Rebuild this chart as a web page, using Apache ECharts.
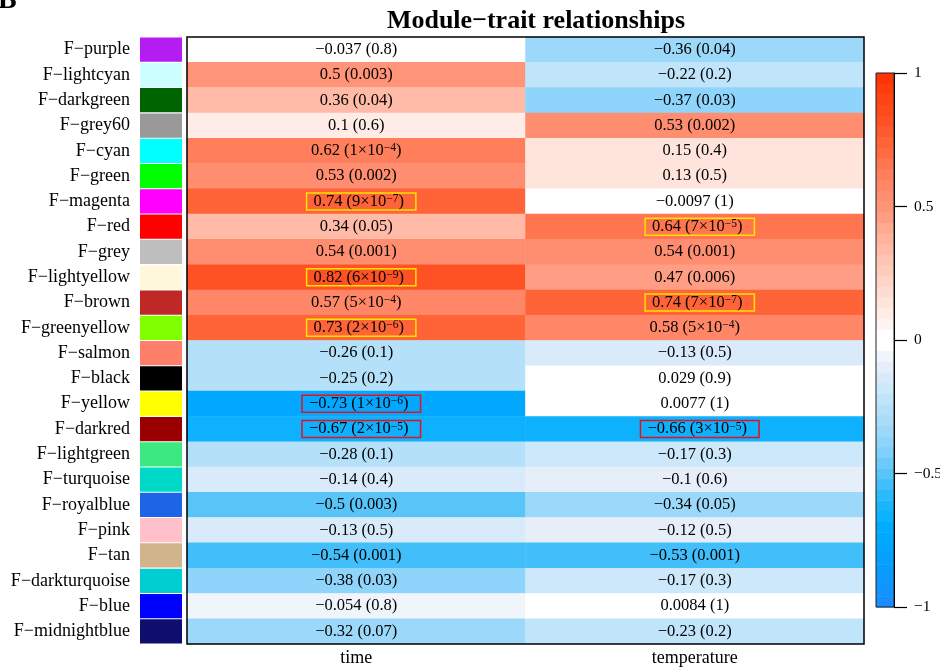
<!DOCTYPE html>
<html>
<head>
<meta charset="utf-8">
<script src="https://cdn.jsdelivr.net/npm/echarts/dist/echarts.min.js"></script>
<style>
  html, body { margin: 0; padding: 0; background: #fff; }
  #chart { width: 940px; height: 667px; }
</style>
</head>
<body>
<div id="chart"></div>
<script>
// Module eigengene vs trait correlations (r) and their p-values
const modules = [
  'F−purple', 'F−lightcyan', 'F−darkgreen', 'F−grey60', 'F−cyan', 'F−green',
  'F−magenta', 'F−red', 'F−grey', 'F−lightyellow', 'F−brown', 'F−greenyellow',
  'F−salmon', 'F−black', 'F−yellow', 'F−darkred', 'F−lightgreen', 'F−turquoise',
  'F−royalblue', 'F−pink', 'F−tan', 'F−darkturquoise', 'F−blue', 'F−midnightblue'
];
const moduleColors = [
  '#B51CF2', '#CCFFFF', '#006400', '#999999', '#00FFFF', '#00FF00',
  '#FF00FF', '#FF0000', '#BEBEBE', '#FFF8DC', '#C02828', '#7FFF00',
  '#FF7F6A', '#000000', '#FFFF00', '#9A0000', '#3CE882', '#00D8C8',
  '#1E64E6', '#FFC0CB', '#D2B48C', '#00CED1', '#0000FF', '#0E0E6E'
];
const traits = ['time', 'temperature'];

const timeCor = [-0.037, 0.5, 0.36, 0.1, 0.62, 0.53, 0.74, 0.34, 0.54, 0.82, 0.57, 0.73,
  -0.26, -0.25, -0.73, -0.67, -0.28, -0.14, -0.5, -0.13, -0.54, -0.38, -0.054, -0.32];
const timeP = [0.8, 0.003, 0.04, 0.6, 1e-4, 0.002, 9e-7, 0.05, 0.001, 6e-9, 5e-4, 2e-6,
  0.1, 0.2, 1e-6, 2e-5, 0.1, 0.4, 0.003, 0.5, 0.001, 0.03, 0.8, 0.07];
const tempCor = [-0.36, -0.22, -0.37, 0.53, 0.15, 0.13, -0.0097, 0.64, 0.54, 0.47, 0.74, 0.58,
  -0.13, 0.029, 0.0077, -0.66, -0.17, -0.1, -0.34, -0.12, -0.53, -0.17, 0.0084, -0.23];
const tempP = [0.04, 0.2, 0.03, 0.002, 0.4, 0.5, 1, 7e-5, 0.001, 0.006, 7e-7, 5e-4,
  0.5, 0.9, 1, 3e-5, 0.3, 0.6, 0.05, 0.5, 0.001, 0.3, 1, 0.2];

const scaleMin = -1, scaleMax = 1, scaleStep = 0.5;
const colorBins = 50;

const FONT = '"Liberation Serif", "Times New Roman", serif';

// blue-white-red anchor colours, evenly spaced from -1 to 1
const ramp = [
  '#1A8CFF', '#0C98FF', '#04A2FF', '#00ACFF', '#20B8FD', '#58C4F8', '#88D2FA',
  '#AADCF8', '#C6E7FA', '#E6EEFA', '#FFFFFF', '#FFECE6', '#FFD8CC', '#FFC4B2',
  '#FFAE96', '#FF9478', '#FF8262', '#FF6C42', '#FF5628', '#FF4414', '#FF3000'
];

const minus = s => String(s).replace(/-/g, '−');

function formatP(p) {
  if (p >= 0.001) return '{n|(' + String(p) + ')}';
  const parts = p.toExponential(0).split('e');
  return '{n|(' + parts[0] + '×10}{s|' + minus(parts[1]) + '}{n|)}';
}

const heatData = [];
const series = [[timeCor, timeP], [tempCor, tempP]];
series.forEach(([cors, ps], j) => {
  cors.forEach((r, i) => {
    const p = ps[i];
    const item = { value: [j, i, r, p] };
    if (p < 1e-4) {
      // significant correlations get a frame
      item.label = {
        borderColor: r > 0 ? '#FFE400' : '#E8101A',
        borderWidth: 1.5,
        padding: [0, 12, 0, 7],
        offset: [5, 0]
      };
    }
    heatData.push(item);
  });
});

// the scale is split into equal bins, each painted with one colour
const edges = [];
for (let k = 0; k <= colorBins; k++) {
  edges.push(scaleMin + (scaleMax - scaleMin) * k / colorBins);
}
const barData = [];
const pieces = [];
for (let k = 0; k < colorBins; k++) {
  const lo = edges[k], hi = edges[k + 1];
  const mid = (lo + hi) / 2;
  barData.push([lo, hi, mid]);
  const t = (mid - scaleMin) / (scaleMax - scaleMin);
  const nearZero = Math.abs(mid) < (hi - lo);
  const piece = { gte: lo, lt: hi, color: nearZero ? '#FFFFFF' : echarts.color.lerp(t, ramp) };
  if (k === colorBins - 1) { delete piece.lt; piece.lte = hi; }
  pieces.push(piece);
}

const chart = echarts.init(document.getElementById('chart'));
chart.setOption({
  animation: false,
  backgroundColor: '#fff',
  title: {
    text: 'Module−trait relationships',
    left: 531,
    top: 3,
    textAlign: 'center',
    textStyle: { fontFamily: FONT, fontWeight: 'bold', fontSize: 26, color: '#000' }
  },
  graphic: [{
    type: 'text',
    left: -2,
    top: -13,
    style: { text: 'B', font: 'bold 28px ' + FONT, fill: '#000' }
  }],
  grid: [
    { left: 140, top: 37, width: 42, height: 607, outerBoundsMode: 'none' },
    { left: 187, right: 76, top: 37, bottom: 23, show: true, z: 5, outerBoundsMode: 'none',
      backgroundColor: 'transparent', borderColor: '#000', borderWidth: 1.5 },
    { left: 876, top: 73, width: 18, height: 534, show: true, z: 5, outerBoundsMode: 'none',
      backgroundColor: 'transparent', borderColor: '#222', borderWidth: 1 }
  ],
  xAxis: [
    { gridIndex: 0, type: 'value', min: 0, max: 1, show: false },
    { gridIndex: 1, type: 'category', data: traits, position: 'bottom',
      axisLine: { show: false }, axisTick: { show: false }, splitLine: { show: false },
      axisLabel: { fontFamily: FONT, fontSize: 18, color: '#000', margin: 5 } },
    { gridIndex: 2, type: 'value', min: 0, max: 1, show: false }
  ],
  yAxis: [
    { gridIndex: 0, type: 'category', data: modules, inverse: true,
      axisLine: { show: false }, axisTick: { show: false },
      axisLabel: { fontFamily: FONT, fontSize: 18, color: '#000', margin: 10 } },
    { gridIndex: 1, type: 'category', data: modules, inverse: true, show: false },
    { gridIndex: 2, type: 'value', min: scaleMin, max: scaleMax, interval: scaleStep,
      position: 'right', splitLine: { show: false }, z: 6,
      axisLine: { show: true, onZero: false, lineStyle: { color: '#000', width: 1 } },
      axisTick: { show: true, inside: false, length: 13, lineStyle: { color: '#000', width: 1.2 } },
      axisLabel: { fontFamily: FONT, fontSize: 15.5, color: '#000', margin: 20,
        formatter: v => minus(v) } }
  ],
  visualMap: {
    type: 'piecewise',
    show: false,
    dimension: 2,
    seriesIndex: [1, 2],
    pieces: pieces
  },
  series: [
    {
      type: 'bar',
      xAxisIndex: 0, yAxisIndex: 0,
      silent: true,
      barCategoryGap: '4%',
      data: moduleColors.map(c => ({ value: 1, itemStyle: { color: c } }))
    },
    {
      type: 'heatmap',
      xAxisIndex: 1, yAxisIndex: 1,
      silent: true,
      data: heatData,
      label: {
        show: true,
        color: '#000',
        fontFamily: FONT,
        fontSize: 16.5,
        formatter: params => {
          const v = params.data.value;
          return '{n|' + minus(v[2]) + ' }' + formatP(v[3]);
        },
        rich: {
          n: { fontFamily: FONT, fontSize: 16.5, color: '#000', lineHeight: 17 },
          s: { fontFamily: FONT, fontSize: 11.5, color: '#000', verticalAlign: 'top', lineHeight: 9 }
        }
      }
    },
    {
      type: 'custom',
      xAxisIndex: 2, yAxisIndex: 2,
      silent: true,
      data: barData,
      renderItem: (params, api) => {
        const p0 = api.coord([0, api.value(0)]);
        const p1 = api.coord([1, api.value(1)]);
        return {
          type: 'rect',
          shape: { x: p0[0], y: p1[1], width: p1[0] - p0[0], height: p0[1] - p1[1] + 0.5 },
          style: { fill: api.visual('color') }
        };
      }
    }
  ]
});
</script>
</body>
</html>
